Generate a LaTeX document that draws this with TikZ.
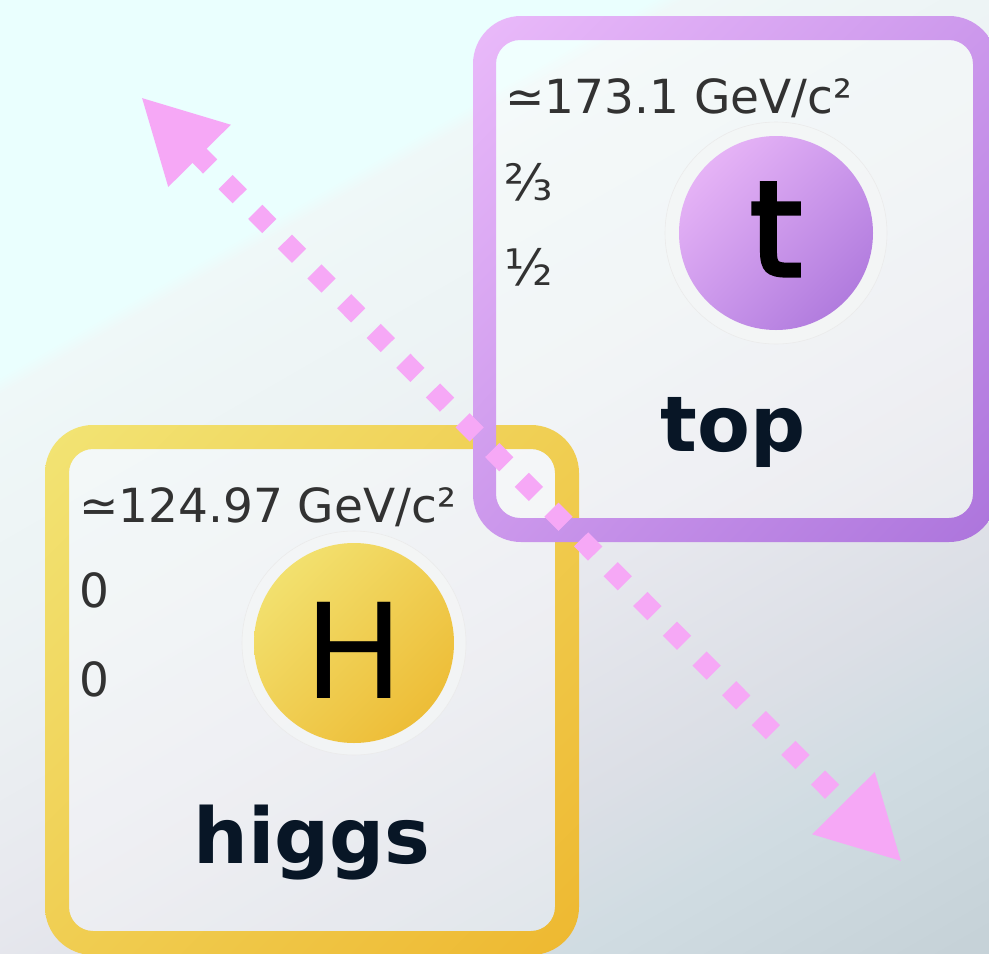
\documentclass[tikz,border=0pt]{standalone}
\usepackage{fontspec}
\setmainfont{DejaVu Sans}
\newfontfamily\letterfont[FakeBold=4]{DejaVu Sans}
\usetikzlibrary{arrows.meta,shadings}
\definecolor{bgA}{RGB}{234,255,254}
\definecolor{bgB}{RGB}{239,248,248}
\definecolor{bgC}{RGB}{236,241,243}
\definecolor{bgD}{RGB}{231,232,238}
\definecolor{bgE}{RGB}{220,223,230}
\definecolor{bgF}{RGB}{208,220,226}
\definecolor{bgG}{RGB}{198,210,216}
\pgfdeclarehorizontalshading{bgshade}{100bp}{color(0bp)=(bgA); color(32.6bp)=(bgA); color(33.4bp)=(bgB); color(46.7bp)=(bgC); color(56.7bp)=(bgD); color(66.7bp)=(bgE); color(73.4bp)=(bgF); color(83.4bp)=(bgG); color(100bp)=(bgG)}
\definecolor{pkTL}{RGB}{234,186,250}
\definecolor{pkBR}{RGB}{172,116,220}
\definecolor{pkMid}{RGB}{204,152,236}
\definecolor{ylTL}{RGB}{242,228,116}
\definecolor{ylBR}{RGB}{238,184,48}
\definecolor{ylMid}{RGB}{240,206,82}
\definecolor{pbTL}{RGB}{240,190,250}
\definecolor{pbBR}{RGB}{166,112,216}
\definecolor{ybTL}{RGB}{243,232,122}
\definecolor{ybBR}{RGB}{236,182,44}
\definecolor{massc}{RGB}{50,50,50}
\definecolor{namec}{RGB}{8,22,38}
\definecolor{arrowc}{RGB}{246,168,246}
\definecolor{haloc}{RGB}{244,246,246}
\begin{document}
\begin{tikzpicture}[x=1pt,y=-1pt,
  massfont/.style={font=\fontsize{47}{50}\selectfont, text=massc, inner sep=0pt, anchor=base west},
  fracfont/.style={massfont, font=\fontsize{50}{52}\selectfont},
  namefont/.style={font=\fontsize{77}{80}\selectfont\bfseries, text=namec, inner sep=0pt, anchor=base},
  letfont/.style={font=\fontsize{132}{140}\selectfont, text=black, inner sep=0pt, anchor=base},
  boxframe/.style 2 args={inner sep=0pt, outer sep=0pt, minimum width=#1, minimum height=#2},
  partcirc/.style={circle, inner sep=0pt, minimum size=#1},
  interior/.style={white, opacity=.32, rounded corners=24pt},
  halofill/.style={haloc, opacity=.8},
  haloline/.style={black!8, line width=.6pt},
  pinkring/.style={upper left=pkTL, upper right=pkMid, lower left=pkMid, lower right=pkBR},
  yellowring/.style={upper left=ylTL, upper right=ylMid, lower left=ylMid, lower right=ylBR},
  pinkball/.style={upper left=pbTL, upper right=pkMid, lower left=pkMid, lower right=pbBR},
  yellowball/.style={upper left=ybTL, upper right=ylMid, lower left=ylMid, lower right=ybBR},
  dotarrow/.style={arrowc, line width=20pt, dash pattern=on 20pt off 22pt,
    {Triangle[length=83pt,width=82pt]}-{Triangle[length=83pt,width=82pt]}}
]
\useasboundingbox (0,0) rectangle (989,954);
\clip (0,0) rectangle (989,954);
\shade[shading=bgshade, shading angle=-60] (0,0) rectangle (989,954);

% box frames
\node[boxframe={524pt}{526pt}] (topbox) at (735,279) {};
\node[boxframe={534pt}{530pt}] (higgsbox) at (312,690) {};

% interiors
\fill[interior] ([xshift=24pt,yshift=-24pt]higgsbox.north west) rectangle ([xshift=-24pt,yshift=24pt]higgsbox.south east);
\fill[interior] ([xshift=23pt,yshift=-24pt]topbox.north west) rectangle ([xshift=-24pt,yshift=24pt]topbox.south east);

% borders
\shade[yellowring, even odd rule, rounded corners=48pt] (higgsbox.north west) rectangle (higgsbox.south east)
  [rounded corners=24pt] ([xshift=24pt,yshift=-24pt]higgsbox.north west) rectangle ([xshift=-24pt,yshift=24pt]higgsbox.south east);
\shade[pinkring, even odd rule, rounded corners=48pt] (topbox.north west) rectangle (topbox.south east)
  [rounded corners=24pt] ([xshift=23pt,yshift=-24pt]topbox.north west) rectangle ([xshift=-24pt,yshift=24pt]topbox.south east);

% particle circles
\node[partcirc=194pt] (tcirc) at (776,233) {};
\fill[halofill] (tcirc.center) circle[radius=111pt];
\draw[haloline] (tcirc.center) circle[radius=111pt];
\shade[pinkball] (tcirc.center) circle[radius=97pt];

\node[partcirc=200pt] (hcirc) at (354,643) {};
\fill[halofill] (hcirc.center) circle[radius=112pt];
\draw[haloline] (hcirc.center) circle[radius=112pt];
\shade[yellowball] (hcirc.center) circle[radius=100pt];

% letters
\node[letfont, font=\fontsize{130}{140}\letterfont] (tlet) at (776,275) {t};
\node[letfont] (hlet) at (354,698) {H};

% top texts
\node[massfont] (tmass) at (505,113) {≃173.1 GeV/c²};
\node[fracfont] (tcharge) at (504,200) {⅔};
\node[fracfont] (tspin) at (504,285) {½};
\node[namefont] (tname) at (733,451) {top};

% higgs texts
\node[massfont] (hmass) at (79,522) {≃124.97 GeV/c²};
\node[massfont] (hcharge) at (79,607) {0};
\node[massfont] (hspin) at (79,696) {0};
\node[namefont] (hname) at (312,863) {higgs};

% arrow
\coordinate (a1) at (141,97);
\coordinate (a2) at (902,862);
\draw[dotarrow] (a1) -- (a2);
\end{tikzpicture}
\end{document}
